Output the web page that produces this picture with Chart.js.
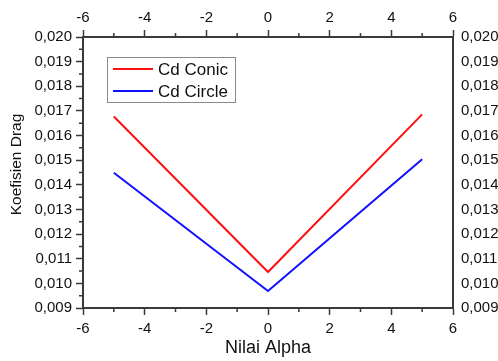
<!DOCTYPE html>
<html>
<head>
<meta charset="utf-8">
<script src="https://cdn.jsdelivr.net/npm/chart.js@4.4.0/dist/chart.umd.min.js"></script>
<style>
  html, body { margin: 0; padding: 0; background: #fff; }
  #wrap { width: 498px; height: 361px; }
</style>
</head>
<body>
<div id="wrap"><canvas id="dragChart"></canvas></div>
<script>
const alphaValues = [-5, 0, 5];
const cdConic = [0.01677, 0.01046, 0.01686];
const cdCircle = [0.01449, 0.00969, 0.01504];
const seriesLabels = ['Cd Conic', 'Cd Circle'];
const xTitle = 'Nilai Alpha';
const yTitle = 'Koefisien Drag';

const axisColor = '#3a3a3a';
const fontFamily = '"Liberation Sans", Arial, sans-serif';

const fmtY = v => v.toFixed(3).replace('.', ',');

// small ticks between the labelled ones, y title, legend box inside the plot
const extrasPlugin = {
    id: 'extras',
    afterDraw(chart) {
        const ctx = chart.ctx;
        const area = chart.chartArea;
        const xs = chart.scales.x;
        const ys = chart.scales.y;
        ctx.save();
        ctx.strokeStyle = axisColor;
        ctx.lineWidth = 1.5;
        ctx.beginPath();
        for (let v = -5; v <= 5; v += 2) {
            const px = xs.getPixelForValue(v);
            ctx.moveTo(px, area.bottom);
            ctx.lineTo(px, area.bottom + 4);
            ctx.moveTo(px, area.top);
            ctx.lineTo(px, area.top - 4);
        }
        for (let i = 0; i < 11; i++) {
            const py = ys.getPixelForValue(0.0095 + i * 0.001);
            ctx.moveTo(area.left, py);
            ctx.lineTo(area.left - 4, py);
        }
        ctx.stroke();

        // y axis title, sits a bit above the middle like the original
        ctx.save();
        ctx.translate(17, (area.top + area.bottom) / 2 - 8);
        ctx.rotate(-Math.PI / 2);
        ctx.font = '15.5px ' + fontFamily;
        ctx.fillStyle = '#111';
        ctx.textAlign = 'center';
        ctx.textBaseline = 'middle';
        ctx.fillText(yTitle, 0, 0);
        ctx.restore();

        // legend
        const bx = 107, by = 57, bw = 128, bh = 45;
        ctx.strokeStyle = '#8a8a8a';
        ctx.lineWidth = 1;
        ctx.strokeRect(bx + 0.5, by + 0.5, bw, bh);
        ctx.font = '17px ' + fontFamily;
        ctx.textBaseline = 'middle';
        chart.data.datasets.forEach((ds, i) => {
            const yy = by + 12 + i * 22;
            ctx.strokeStyle = ds.borderColor;
            ctx.lineWidth = 2;
            ctx.beginPath();
            ctx.moveTo(bx + 6, yy);
            ctx.lineTo(bx + 46, yy);
            ctx.stroke();
            ctx.fillStyle = '#111';
            ctx.fillText(ds.label, bx + 51, yy + 1);
        });
        ctx.restore();
    }
};

const xAxis = (position, showTitle) => ({
    type: 'linear',
    position: position,
    min: -6,
    max: 6,
    afterFit(scale) { scale.height = position === 'top' ? 37 : 53; },
    border: { display: true, color: axisColor, width: 2 },
    grid: { display: true, drawOnChartArea: false, drawTicks: true, tickLength: 7, tickColor: axisColor, tickWidth: 1.5 },
    ticks: { stepSize: 2, padding: position === 'top' ? 3 : 5, color: '#111', font: { family: fontFamily, size: 15 }, maxRotation: 0 },
    title: { display: showTitle, text: xTitle, color: '#111', font: { family: fontFamily, size: 18 }, padding: { top: 0, bottom: 2 } }
});

const yAxis = (position) => ({
    type: 'linear',
    position: position,
    min: 0.009,
    max: 0.020,
    afterFit(scale) { scale.width = position === 'left' ? 83 : 45; },
    border: { display: true, color: axisColor, width: 2 },
    grid: { display: true, drawOnChartArea: false, drawTicks: position === 'left', tickLength: 7, tickColor: axisColor, tickWidth: 1.5 },
    ticks: { stepSize: 0.001, padding: position === 'left' ? 4 : 8, color: '#111', font: { family: fontFamily, size: 15 }, callback: v => fmtY(v) }
});

new Chart(document.getElementById('dragChart'), {
    type: 'line',
    data: {
        datasets: [
            {
                label: seriesLabels[0],
                data: alphaValues.map((a, i) => ({ x: a, y: cdConic[i] })),
                borderColor: '#ff1010',
                borderWidth: 2,
                pointRadius: 0,
                tension: 0,
                xAxisID: 'x',
                yAxisID: 'y'
            },
            {
                label: seriesLabels[1],
                data: alphaValues.map((a, i) => ({ x: a, y: cdCircle[i] })),
                borderColor: '#1010ff',
                borderWidth: 2,
                pointRadius: 0,
                tension: 0,
                xAxisID: 'x',
                yAxisID: 'y'
            }
        ]
    },
    options: {
        responsive: true,
        maintainAspectRatio: false,
        animation: false,
        layout: { padding: 0 },
        scales: {
            x: xAxis('bottom', true),
            x2: xAxis('top', false),
            y: yAxis('left'),
            y2: yAxis('right')
        },
        plugins: {
            legend: { display: false },
            tooltip: { enabled: false }
        }
    },
    plugins: [extrasPlugin]
});
</script>
</body>
</html>
